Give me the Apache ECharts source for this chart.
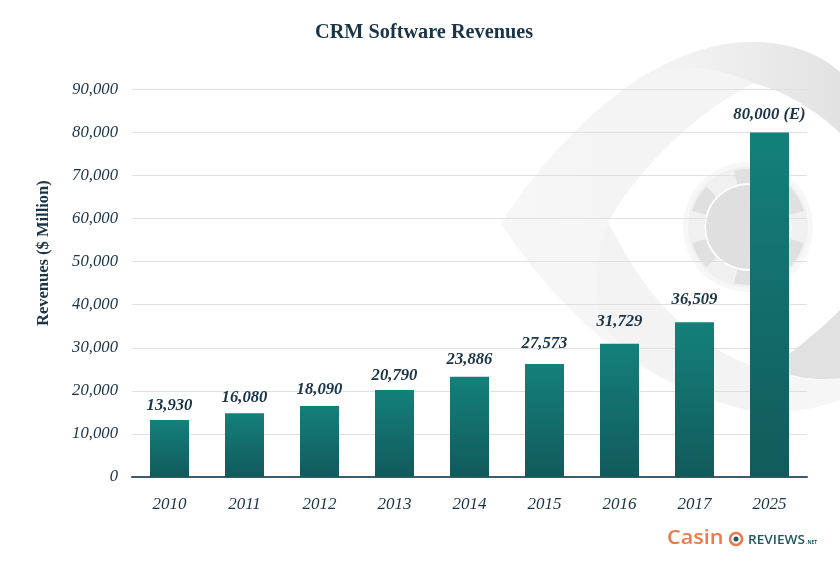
<!DOCTYPE html>
<html><head><meta charset="utf-8">
<style>html,body{margin:0;padding:0;background:#fff}#c{width:840px;height:566px}</style>
<script src="https://cdn.jsdelivr.net/npm/echarts@6/dist/echarts.min.js"></script>
</head><body><div id="c"></div>
<script>
const categories = ['2010','2011','2012','2013','2014','2015','2016','2017','2025'];
const barValues = [13230,14790,16480,20200,23280,26230,30940,35900,80000];
const barLabels = ['13,930','16,080','18,090','20,790','23,886','27,573','31,729','36,509','80,000 (E)'];
const chartTitle = 'CRM Software Revenues';
const yAxisTitle = 'Revenues ($ Million)';

const ink = '#1b3447';
const serif = '"Liberation Serif", serif';
const labelGap = [6,7,8,6,9,12,14,14,9];
const chart = echarts.init(document.getElementById('c'), null, {renderer:'canvas'});
const rad = d => d * Math.PI / 180;
const cx = 748, cy = 227;
function outline(start, segs){
  const pts=[start]; let p=start;
  segs.forEach(s=>{
    if(s.length===2){pts.push(s);p=s;return;}
    for(let i=1;i<=24;i++){const t=i/24,u=1-t;
      pts.push([u*u*u*p[0]+3*u*u*t*s[0]+3*u*t*t*s[2]+t*t*t*s[4],
                u*u*u*p[1]+3*u*u*t*s[1]+3*u*t*t*s[3]+t*t*t*s[5]]);}
    p=[s[4],s[5]];
  });
  return pts;
}
const chipSegments = [90,150,210,270,330,30].map(a => ({
  type:'sector', z:-8, silent:true,
  shape:{cx,cy,r:58,r0:44,startAngle:rad(-a-14),endAngle:rad(-a+14)},
  style:{fill:'#e0e0e0'}
}));
const eyeFill = {type:'linear',x:0,y:0,x2:1,y2:0,colorStops:[{offset:0,color:'#f7f7f7'},{offset:0.55,color:'#f2f2f2'},{offset:1,color:'#e2e2e2'}]};
const watermark = [
  {type:'polygon', z:-10, silent:true, shape:{points:outline([501,223],[
     [545,155,640,42,752,42],[790,42,820,54,840,72],[840,133],[810,105,780,90,753,83],
     [700,110,640,165,608,222]])},
    style:{fill:eyeFill}},
  {type:'polygon', z:-10, silent:true, shape:{points:outline([501,223],[[608,222],
     [640,285,680,345,770,372],[795,378,815,381,840,378],[840,400],[800,415,770,412,747,410],
     [620,380,545,290,501,223]])},
    style:{fill:'#f6f6f6'}},
  {type:'polygon', z:-9, silent:true, shape:{points:outline([608,222],[[590,165,600,85,667,70],[700,64,730,72,753,83],[700,110,640,165,608,222]])},
    style:{fill:'#f4f4f4'}},
  {type:'polygon', z:-9, silent:true, shape:{points:outline([608,222],[[640,285,680,345,770,372],[775,385,765,400,747,410],[650,385,600,340,597,297],[595,270,600,245,608,222]])},
    style:{fill:'#f3f3f3'}},
  {type:'polygon', z:-9, silent:true, shape:{points:outline([770,368],[[795,350,820,330,840,310],[840,378],[815,381,795,378,770,368]])},
    style:{fill:'#e1e1e1'}},
  {type:'circle', z:-9, silent:true, shape:{cx,cy,r:65}, style:{fill:'#f7f7f7'}},
  {type:'circle', z:-9, silent:true, shape:{cx,cy,r:60}, style:{fill:'#f0f0f0'}},
  ...chipSegments,
  {type:'circle', z:-7, silent:true, shape:{cx,cy,r:43.5}, style:{fill:'#ffffff'}},
  {type:'circle', z:-6, silent:true, shape:{cx,cy,r:42}, style:{fill:'#dfdfdf'}}
];
const logo = [
  {type:'text', silent:true, x:667, y:528, scaleX:1.08, style:{text:'Casin', fill:'#ea7a4c', font:'600 20px "Open Sans", sans-serif'}},
  {type:'circle', silent:true, shape:{cx:736,cy:539,r:6}, style:{fill:'#ffffff',stroke:'#ea7a4c',lineWidth:2.5}},
  {type:'circle', silent:true, shape:{cx:736,cy:539,r:2.5}, style:{fill:'#1f5a5e'}},
  {type:'text', silent:true, x:748, y:534, scaleX:1.05, style:{text:'REVIEWS', fill:'#1f5a5e', font:'600 13px "Open Sans", sans-serif'}},
  {type:'text', silent:true, x:806, y:540, style:{text:'.NET', fill:'#1f5a5e', font:'bold 5px "Open Sans", sans-serif'}}
];
chart.setOption({
  animation:false,
  backgroundColor:'#ffffff',
  title:{text:chartTitle,left:310,top:18,
    textStyle:{fontFamily:serif,fontWeight:'bold',fontSize:20.3,color:ink}},
  graphic:{elements:[...watermark,...logo]},
  grid:{left:132,width:675,top:89.3,height:387.7,containLabel:false},
  xAxis:{type:'category',data:categories,
    axisLine:{lineStyle:{color:'#3f5c6e',width:2}},axisTick:{show:false},
    axisLabel:{margin:19,fontFamily:serif,fontStyle:'italic',fontSize:17,color:ink}},
  yAxis:{type:'value',min:0,max:90000,interval:10000,
    name:yAxisTitle,nameLocation:'middle',nameGap:80,
    nameTextStyle:{fontFamily:serif,fontWeight:'bold',fontSize:16.5,color:ink,padding:[0,0,0,60]},
    axisLine:{show:false},axisTick:{show:false},
    splitLine:{lineStyle:{color:'#e0e0e0',width:1}},
    axisLabel:{margin:14,fontFamily:serif,fontStyle:'italic',fontSize:16.7,color:ink,
      formatter:v=>v.toLocaleString('en-US')}},
  series:[{type:'bar',
    data:barValues.map((v,i)=>({value:v,label:{distance:labelGap[i]}})),
    barWidth:39,
    itemStyle:{color:{type:'linear',x:0,y:0,x2:0,y2:1,colorStops:[{offset:0,color:'#14807a'},{offset:1,color:'#125a5c'}]}},
    label:{show:true,position:'top',fontFamily:serif,fontStyle:'italic',fontWeight:'bold',fontSize:16.7,color:ink,
      formatter:p=>barLabels[p.dataIndex]}}]
});
</script></body></html>
